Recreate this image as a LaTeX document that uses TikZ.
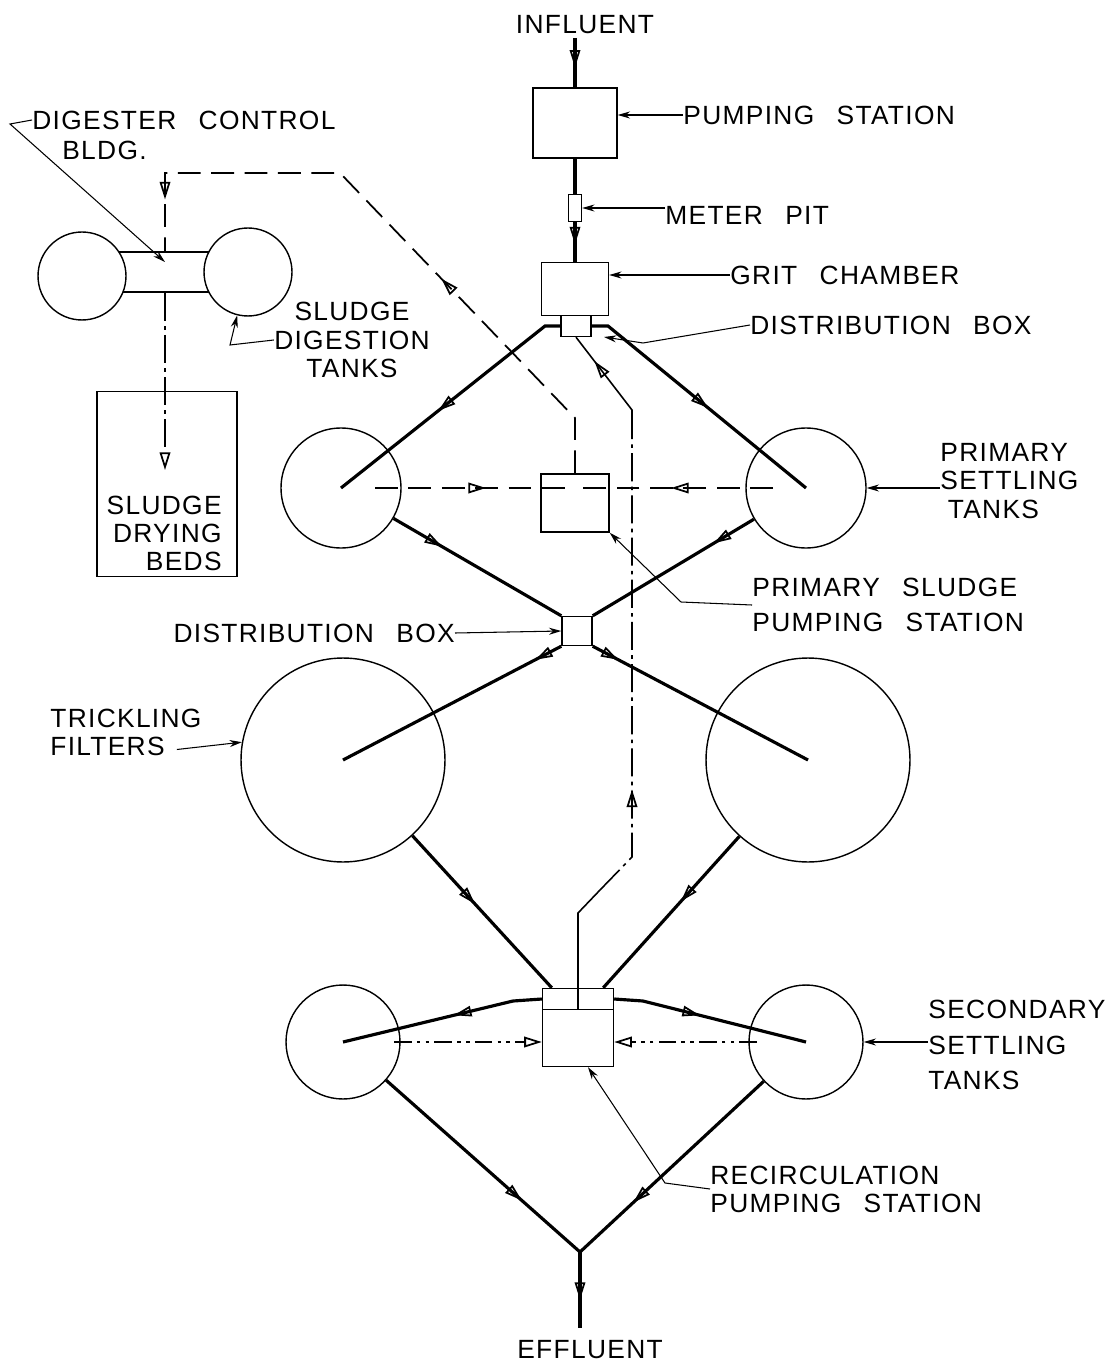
\documentclass[tikz,border=0pt]{standalone}
\usepackage{fontspec}
\usepackage{tikz}
\usetikzlibrary{positioning, arrows.meta, decorations.markings, calc}
\newfontfamily\lettering[LetterSpace=5]{Liberation Sans}
\newcommand{\wsp}{\hspace{0.85em}}

\tikzset{
  unit/.style={draw, line width=0.8pt, inner sep=0pt},
  tank/.style={circle, draw, line width=0.8pt, fill=white, inner sep=0pt, minimum size=#1},
  flow/.style={line width=1.8pt},
  sludge/.style={line width=1pt, dash pattern=on 13pt off 6pt},
  retour/.style={line width=0.9pt, dash pattern=on 16pt off 3pt on 2pt off 3pt},
  retourbis/.style={line width=0.9pt, dash pattern=on 10pt off 3pt on 2pt off 3pt on 2pt off 3pt},
  leader/.style={line width=0.6pt, -{Stealth[length=7pt, width=4pt]}},
  lbl/.style={font=\lettering\fontsize{15}{16}\selectfont, inner sep=0pt, align=left},
  midarrow/.style={postaction={decorate, decoration={markings,
      mark=at position #1 with {\arrow{Triangle[open, length=10pt, width=6pt, line width=1pt]}}}}},
}

\begin{document}
\begin{tikzpicture}[x=0.02cm, y=-0.02cm]
    \useasboundingbox (0,0) rectangle (1112,1368);

    % Ouvrages (file eau)
    \node[unit, minimum width=1.68cm, minimum height=1.4cm] (pump) at (575,123) {};
    \node[unit, minimum width=0.26cm, minimum height=0.54cm] (meter) at (575,208) {};
    \node[unit, minimum width=1.34cm, minimum height=1.06cm] (grit) at (575,289) {};
    \node[unit, minimum width=0.6cm, minimum height=0.42cm] (distA) at (576,326) {};
    \node[unit, minimum width=1.36cm, minimum height=1.16cm] (psps) at (575,503) {};
    \node[unit, minimum width=0.6cm, minimum height=0.58cm] (distB) at (577,631) {};
    \node[unit, minimum width=1.42cm, minimum height=0.42cm] (recircTop) at (578,999) {};
    \node[unit, minimum width=1.42cm, minimum height=1.14cm] (recirc) at (578,1038) {};

    \node[tank=2.4cm] (pstL) at (341,488) {};
    \node[tank=2.4cm] (pstR) at (806,488) {};
    \node[tank=4.08cm] (tfL) at (343,760) {};
    \node[tank=4.08cm] (tfR) at (808,760) {};
    \node[tank=2.28cm] (sstL) at (343,1042) {};
    \node[tank=2.28cm] (sstR) at (806,1042) {};

    % Ouvrages (file boues)
    \node[unit, minimum width=2cm, minimum height=0.8cm] (bldg) at (165,272) {};
    \node[tank=1.76cm] (digL) at (82,276) {};
    \node[tank=1.76cm] (digR) at (248,272) {};
    \node[unit, minimum width=2.8cm, minimum height=3.7cm] (beds) at (167,484) {};

    \coordinate (infStart) at (575,38);
    \coordinate (junc) at (580,1252);
    \coordinate (effEnd) at (580,1328);

    % Etiquettes
    \node[lbl] (lblInf) at (585,25) {INFLUENT};
    \node[lbl, anchor=west] (lblPump) at (683,115) {PUMPING\wsp STATION};
    \node[lbl, anchor=west] (lblMeter) at (665,215) {METER\wsp PIT};
    \node[lbl, anchor=west] (lblGrit) at (730,275) {GRIT\wsp CHAMBER};
    \node[lbl, anchor=west] (lblDistA) at (750,325) {DISTRIBUTION\wsp BOX};
    \node[lbl, anchor=west] (lblPst) at (940,481) {PRIMARY\\SETTLING\\\hspace{0.15cm}TANKS};
    \node[lbl, anchor=west] (lblPsps) at (752,605) {PRIMARY\wsp SLUDGE\\[4pt]PUMPING\wsp STATION};
    \node[lbl, anchor=east] (lblDistB) at (455,633) {DISTRIBUTION\wsp BOX};
    \node[lbl, anchor=west] (lblTf) at (50,732) {TRICKLING\\FILTERS};
    \node[lbl, anchor=west] (lblSst) at (928,1045) {SECONDARY\\[4pt]SETTLING\\[4pt]TANKS};
    \node[lbl, anchor=west] (lblRec) at (710,1189) {RECIRCULATION\\PUMPING\wsp STATION};
    \node[lbl] (lblEff) at (590,1350) {EFFLUENT};
    \node[lbl, anchor=west] (lblBldgA) at (32,120) {DIGESTER\wsp CONTROL};
    \node[lbl, anchor=west] (lblBldgB) at (62,150) {BLDG.};
    \node[lbl, align=center] (lblDig) at (352,340) {SLUDGE\\DIGESTION\\TANKS};
    \node[lbl, align=right, anchor=north east] (lblBeds) at (222,496) {SLUDGE\\DRYING\\BEDS};

    % File eau
    \draw[flow, midarrow=0.6] (infStart) -- (pump.north);
    \draw[flow] (pump.south) -- (meter.north);
    \draw[flow, midarrow=0.56] (meter.south) -- (grit.north);
    \draw[flow, midarrow=0.55] (distA.west) -- (545,326) -- (pstL.center);
    \draw[flow, midarrow=0.535] (distA.east) -- (608,326) -- (pstR.center);
    \draw[flow, midarrow=0.29] (pstL) -- (distB.north west);
    \draw[flow, midarrow=0.25] (pstR) -- (distB.north east);
    \draw[flow, midarrow=0.12] (distB.south west) -- (tfL.center);
    \draw[flow, midarrow=0.12] (distB.south east) -- (tfR.center);
    \draw[flow, midarrow=0.45] (tfL) -- ([xshift=0.2cm]recircTop.north west);
    \draw[flow, midarrow=0.43] (tfR) -- ([xshift=-0.22cm]recircTop.north east);
    \draw[flow, midarrow=0.44] (recircTop.west) -- (513,1001) -- (sstL.center);
    \draw[flow, midarrow=0.445] (recircTop.east) -- (643,1001) -- (sstR.center);
    \draw[flow, midarrow=0.7] (sstL) -- (junc);
    \draw[flow, midarrow=0.71] (sstR) -- (junc);
    \draw[flow, midarrow=0.63] (junc) -- (effEnd);

    % Recirculation
    \draw[line width=0.9pt] (recirc.north) -- (578,913) -- (600,890);
    \draw[retour, midarrow=0.24] (600,890) -- (632,857) -- (632,430);
    \draw[line width=0.9pt, midarrow=0.73] (632,430) -- (632,410) -- (distA.south);
    \coordinate (sludgeL2) at (394,1042);
    \coordinate (sludgeR2) at (757,1042);
    \draw[retourbis, -{Triangle[open, length=10pt, width=6pt, line width=1pt]}] (sludgeL2) -- (sludgeL2 -| recirc.west);
    \draw[retourbis, -{Triangle[open, length=10pt, width=6pt, line width=1pt]}] (sludgeR2) -- (sludgeR2 -| recirc.east);

    % Boues primaires
    \coordinate (sludgeL) at (375,488);
    \coordinate (sludgeR) at (773,488);
    \draw[sludge, midarrow=0.555] (sludgeL) -- (sludgeL -| psps.center);
    \draw[sludge, midarrow=0.515] (sludgeR) -- (sludgeR -| psps.center);
    \draw[sludge, midarrow=0.383, midarrow=0.92] (psps.north) -- (575,418) -- (340,173) -- (165,173) -- (bldg.north);
    \draw[retour, -{Triangle[open, length=10pt, width=6pt, line width=1pt]}] (bldg.south) -- (165,470);

    % Renvois
    \draw[leader] (lblPump.west) -- (lblPump.west -| pump.east);
    \draw[leader] (lblMeter.west |- meter.east) -- (meter.east);
    \draw[leader] (lblGrit.west) -- (lblGrit.west -| grit.east);
    \coordinate (distAarm) at (604,337);
    \draw[leader] (lblDistA.west) -- (643,343) -- (distAarm);
    \draw[leader] (pstR.east -| lblPst.west) -- (pstR.east);
    \draw[leader] (lblPsps.west) -- (681,602) -- (psps.south east);
    \draw[leader] (lblDistB.east) -- (distB.west);
    \draw[leader] ([xshift=-0.5cm, yshift=-0.35cm]lblTf.east) -- (tfL.170);
    \draw[leader] (sstR.east -| lblSst.west) -- (sstR.east);
    \draw[leader] (lblRec.west) -- (665,1183) -- ([xshift=0.2cm]recirc.south);
    \draw[leader] (lblBldgA.west) -- (10,124) -- ([yshift=0.2cm]bldg.center);
    \draw[leader] (lblDig.west) -- (230,345) -- (digR.-104);
\end{tikzpicture}
\end{document}
